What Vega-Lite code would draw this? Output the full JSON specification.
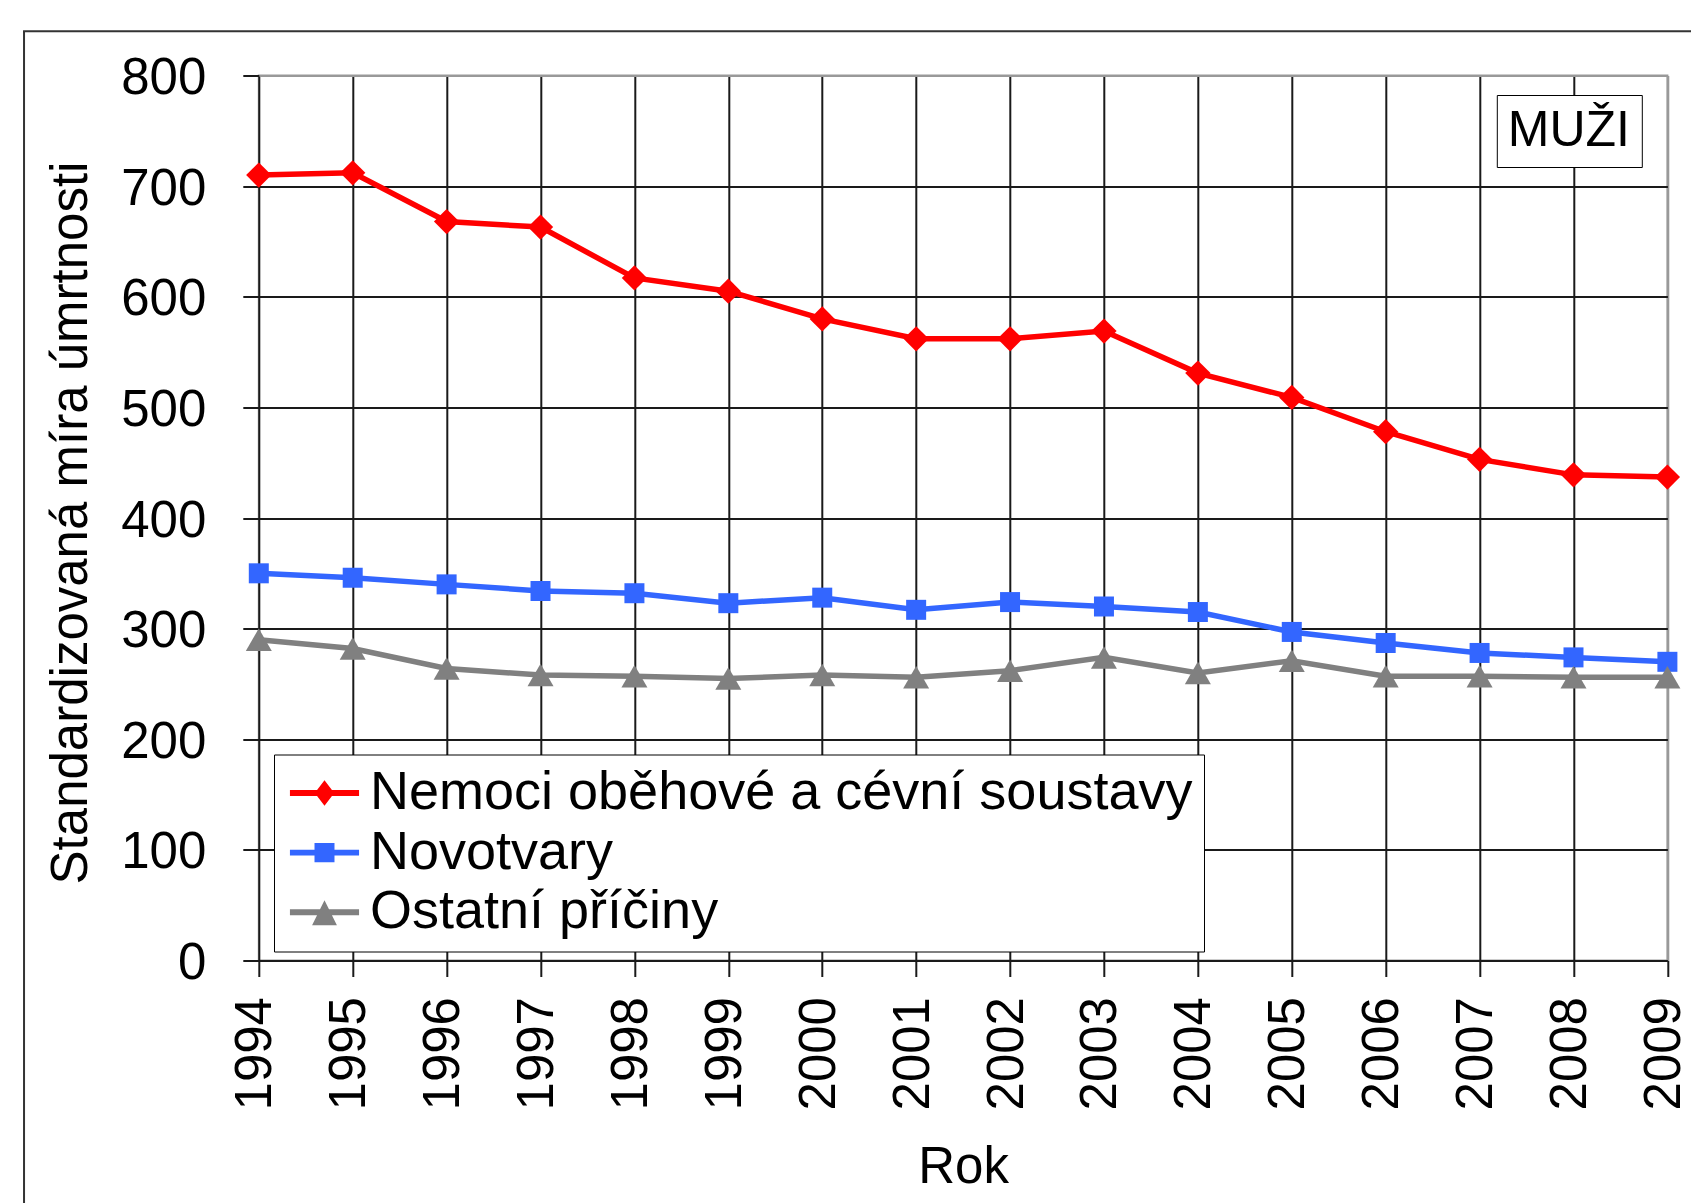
{
  "$schema": "https://vega.github.io/schema/vega-lite/v6.json",
  "width": 1408.6,
  "height": 885,
  "autosize": {"type": "none"},
  "padding": {"left": 258.8, "top": 75.5, "right": 23.6, "bottom": 242.5},
  "background": "white",
  "config": {
    "font": "Liberation Sans",
    "view": {"stroke": "#999999", "strokeWidth": 2}
  },
  "datasets": {
    "series": [
      {"year": 1994, "series": "Nemoci oběhové a cévní soustavy", "value": 710},
      {"year": 1995, "series": "Nemoci oběhové a cévní soustavy", "value": 712},
      {"year": 1996, "series": "Nemoci oběhové a cévní soustavy", "value": 668},
      {"year": 1997, "series": "Nemoci oběhové a cévní soustavy", "value": 663},
      {"year": 1998, "series": "Nemoci oběhové a cévní soustavy", "value": 617},
      {"year": 1999, "series": "Nemoci oběhové a cévní soustavy", "value": 605},
      {"year": 2000, "series": "Nemoci oběhové a cévní soustavy", "value": 580},
      {"year": 2001, "series": "Nemoci oběhové a cévní soustavy", "value": 562},
      {"year": 2002, "series": "Nemoci oběhové a cévní soustavy", "value": 562},
      {"year": 2003, "series": "Nemoci oběhové a cévní soustavy", "value": 569},
      {"year": 2004, "series": "Nemoci oběhové a cévní soustavy", "value": 531},
      {"year": 2005, "series": "Nemoci oběhové a cévní soustavy", "value": 509},
      {"year": 2006, "series": "Nemoci oběhové a cévní soustavy", "value": 478},
      {"year": 2007, "series": "Nemoci oběhové a cévní soustavy", "value": 453},
      {"year": 2008, "series": "Nemoci oběhové a cévní soustavy", "value": 439},
      {"year": 2009, "series": "Nemoci oběhové a cévní soustavy", "value": 437},
      {"year": 1994, "series": "Novotvary", "value": 350},
      {"year": 1995, "series": "Novotvary", "value": 346},
      {"year": 1996, "series": "Novotvary", "value": 340},
      {"year": 1997, "series": "Novotvary", "value": 334},
      {"year": 1998, "series": "Novotvary", "value": 332},
      {"year": 1999, "series": "Novotvary", "value": 323},
      {"year": 2000, "series": "Novotvary", "value": 328},
      {"year": 2001, "series": "Novotvary", "value": 317},
      {"year": 2002, "series": "Novotvary", "value": 324},
      {"year": 2003, "series": "Novotvary", "value": 320},
      {"year": 2004, "series": "Novotvary", "value": 315},
      {"year": 2005, "series": "Novotvary", "value": 297},
      {"year": 2006, "series": "Novotvary", "value": 287},
      {"year": 2007, "series": "Novotvary", "value": 278},
      {"year": 2008, "series": "Novotvary", "value": 274},
      {"year": 2009, "series": "Novotvary", "value": 270},
      {"year": 1994, "series": "Ostatní příčiny", "value": 290},
      {"year": 1995, "series": "Ostatní příčiny", "value": 282},
      {"year": 1996, "series": "Ostatní příčiny", "value": 264},
      {"year": 1997, "series": "Ostatní příčiny", "value": 258},
      {"year": 1998, "series": "Ostatní příčiny", "value": 257},
      {"year": 1999, "series": "Ostatní příčiny", "value": 255},
      {"year": 2000, "series": "Ostatní příčiny", "value": 258},
      {"year": 2001, "series": "Ostatní příčiny", "value": 256},
      {"year": 2002, "series": "Ostatní příčiny", "value": 262},
      {"year": 2003, "series": "Ostatní příčiny", "value": 274},
      {"year": 2004, "series": "Ostatní příčiny", "value": 260},
      {"year": 2005, "series": "Ostatní příčiny", "value": 271},
      {"year": 2006, "series": "Ostatní příčiny", "value": 257},
      {"year": 2007, "series": "Ostatní příčiny", "value": 257},
      {"year": 2008, "series": "Ostatní příčiny", "value": 256},
      {"year": 2009, "series": "Ostatní příčiny", "value": 256}
    ],
    "badge": [{"lab": "MUŽI"}]
  },
  "layer": [
    {
      "data": {"name": "series"},
      "transform": [{"filter": "false"}],
      "mark": {"type": "point", "filled": true, "opacity": 1, "strokeWidth": 0},
      "encoding": {
        "x": {
          "field": "year",
          "type": "quantitative",
          "title": "Rok",
          "scale": {"domain": [1994, 2009], "nice": false, "zero": false},
          "axis": {
            "values": [1994, 1995, 1996, 1997, 1998, 1999, 2000, 2001, 2002, 2003, 2004, 2005, 2006, 2007, 2008, 2009],
            "format": "d",
            "labelAngle": -90,
            "labelFlush": false,
            "labelOverlap": false,
            "labelFontSize": 51,
            "labelColor": "black",
            "labelPadding": 20,
            "labelOffset": -3,
            "domain": false,
            "grid": true,
            "gridColor": {"condition": {"test": "datum.value === 2009", "value": "#999999"}, "value": "#1a1a1a"},
            "gridWidth": 2,
            "ticks": true,
            "tickSize": 16,
            "tickWidth": 2,
            "tickColor": "#1a1a1a",
            "titleFontSize": 51,
            "titleFontWeight": "normal",
            "titleColor": "black",
            "titleX": 704.3,
            "titleY": 222.4,
            "titleBaseline": "alphabetic"
          }
        },
        "y": {
          "field": "value",
          "type": "quantitative",
          "title": "Standardizovaná míra úmrtnosti",
          "scale": {"domain": [0, 800], "nice": false},
          "axis": {
            "values": [0, 100, 200, 300, 400, 500, 600, 700, 800],
            "labelFlush": false,
            "labelOverlap": false,
            "labelFontSize": 51,
            "labelColor": "black",
            "labelPadding": 37,
            "labelOffset": 3,
            "domain": false,
            "grid": true,
            "gridColor": {"condition": {"test": "datum.value === 800", "value": "#999999"}, "value": "#1a1a1a"},
            "gridWidth": 2,
            "ticks": true,
            "tickSize": 16,
            "tickWidth": 2,
            "tickColor": "#1a1a1a",
            "titleFontSize": 51,
            "titleFontWeight": "normal",
            "titleColor": "black",
            "titleX": -172.7,
            "titleY": 447,
            "titleBaseline": "alphabetic"
          }
        },
        "color": {
          "field": "series",
          "type": "nominal",
          "scale": {
            "domain": ["Nemoci oběhové a cévní soustavy", "Novotvary", "Ostatní příčiny"],
            "range": ["#FF0000", "#3366FF", "#808080"]
          },
          "legend": {
            "title": null,
            "orient": "none",
            "legendX": 15.2,
            "legendY": 679,
            "direction": "vertical",
            "strokeColor": "black",
            "fillColor": "white",
            "padding": 11.5,
            "labelFontSize": 54,
            "labelColor": "black",
            "labelLimit": 2000,
            "symbolSize": 2916,
            "symbolOffset": 12,
            "labelOffset": 18.5,
            "rowPadding": 5.6,
            "symbolStrokeWidth": 0,
            "symbolOpacity": 1
          }
        },
        "shape": {
          "field": "series",
          "type": "nominal",
          "scale": {
            "domain": ["Nemoci oběhové a cévní soustavy", "Novotvary", "Ostatní příčiny"],
            "range": [
              "M-1.28,-0.11H1.28V0.11H-1.28Z M0,-0.47L0.36,0L0,0.47L-0.36,0Z",
              "M-1.28,-0.11H1.28V0.11H-1.28Z M-0.37,-0.36H0.37V0.36H-0.37Z",
              "M-1.28,-0.11H1.28V0.11H-1.28Z M0,-0.44L0.46,0.48L-0.46,0.48Z"
            ]
          },
          "legend": {
            "title": null,
            "orient": "none",
            "legendX": 15.2,
            "legendY": 679,
            "direction": "vertical",
            "strokeColor": "black",
            "fillColor": "white",
            "padding": 11.5,
            "labelFontSize": 54,
            "labelColor": "black",
            "labelLimit": 2000,
            "symbolSize": 2916,
            "symbolOffset": 12,
            "labelOffset": 18.5,
            "rowPadding": 5.6,
            "symbolStrokeWidth": 0,
            "symbolOpacity": 1
          }
        }
      }
    },
    {
      "data": {"name": "series"},
      "transform": [{"filter": {"field": "series", "equal": "Nemoci oběhové a cévní soustavy"}}],
      "mark": {"type": "line", "color": "#FF0000", "strokeWidth": 5.5, "clip": false,
               "point": {"shape": "diamond", "size": 640, "filled": true, "color": "#FF0000", "opacity": 1, "strokeWidth": 0}},
      "encoding": {
        "x": {"field": "year", "type": "quantitative"},
        "y": {"field": "value", "type": "quantitative"}
      }
    },
    {
      "data": {"name": "series"},
      "transform": [{"filter": {"field": "series", "equal": "Novotvary"}}],
      "mark": {"type": "line", "color": "#3366FF", "strokeWidth": 5.5, "clip": false,
               "point": {"shape": "square", "size": 400, "filled": true, "color": "#3366FF", "opacity": 1, "strokeWidth": 0}},
      "encoding": {
        "x": {"field": "year", "type": "quantitative"},
        "y": {"field": "value", "type": "quantitative"}
      }
    },
    {
      "data": {"name": "series"},
      "transform": [{"filter": {"field": "series", "equal": "Ostatní příčiny"}}],
      "mark": {"type": "line", "color": "#808080", "strokeWidth": 5.5, "clip": false,
               "point": {"shape": "triangle-up", "size": 676, "filled": true, "color": "#808080", "opacity": 1, "strokeWidth": 0}},
      "encoding": {
        "x": {"field": "year", "type": "quantitative"},
        "y": {"field": "value", "type": "quantitative"}
      }
    },
    {
      "data": {"values": [{}]},
      "mark": {"type": "rect", "fill": "transparent", "stroke": "#333333", "strokeWidth": 2, "clip": false},
      "encoding": {
        "x": {"datum": 1991.5, "type": "quantitative"},
        "x2": {"datum": 2013},
        "y": {"datum": 839.9, "type": "quantitative"},
        "y2": {"datum": -300}
      }
    },
    {
      "data": {"name": "badge"},
      "mark": {"type": "point", "opacity": 0},
      "encoding": {
        "fill": {
          "field": "lab",
          "type": "nominal",
          "scale": {"range": ["black"]},
          "legend": {
            "title": null,
            "orient": "none",
            "legendX": 1238,
            "legendY": 19.5,
            "strokeColor": "black",
            "fillColor": "white",
            "padding": 11,
            "symbolSize": 0,
            "symbolOpacity": 0,
            "labelOffset": -50,
            "labelFontSize": 50,
            "labelColor": "black"
          }
        }
      }
    }
  ]
}
